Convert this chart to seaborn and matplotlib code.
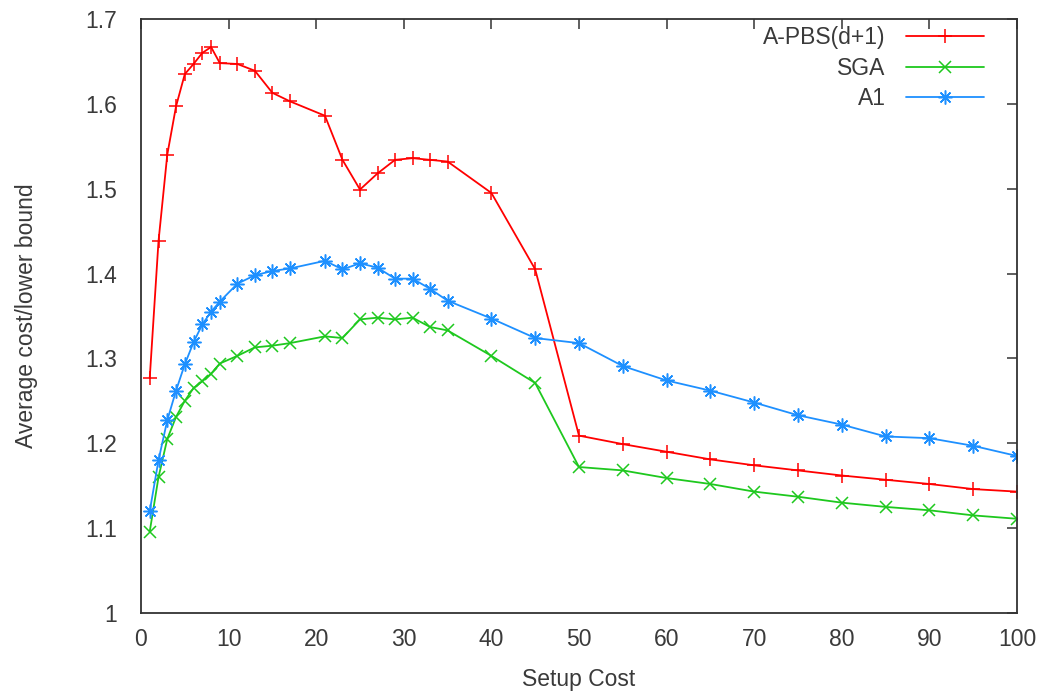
import matplotlib

matplotlib.use("Agg")
import matplotlib.pyplot as plt
import seaborn as sns

""" Average cost / lower bound against setup cost, gnuplot-like look """

# x positions shared by the three series
setup_cost = [1, 2, 3, 4, 5, 6, 7, 8, 9, 11, 13, 15, 17, 21, 23, 25, 27, 29, 31,
              33, 35, 40, 45, 50, 55, 60, 65, 70, 75, 80, 85, 90, 95, 100]

apbs = [1.277, 1.438, 1.540, 1.597, 1.635, 1.647, 1.660, 1.667, 1.648, 1.647,
        1.639, 1.613, 1.603, 1.586, 1.534, 1.499, 1.518, 1.534, 1.536, 1.534,
        1.532, 1.495, 1.405, 1.209, 1.199, 1.190, 1.181, 1.174, 1.168, 1.162,
        1.157, 1.152, 1.146, 1.143]

sga = [1.096, 1.160, 1.205, 1.231, 1.250, 1.265, 1.273, 1.282, 1.294, 1.303,
       1.313, 1.315, 1.318, 1.326, 1.324, 1.346, 1.348, 1.346, 1.348, 1.337,
       1.333, 1.303, 1.271, 1.172, 1.168, 1.159, 1.152, 1.143, 1.137, 1.130,
       1.125, 1.121, 1.115, 1.111]

a1 = [1.120, 1.180, 1.227, 1.262, 1.293, 1.319, 1.340, 1.355, 1.367, 1.388,
      1.398, 1.403, 1.406, 1.415, 1.405, 1.412, 1.407, 1.394, 1.394, 1.382,
      1.368, 1.347, 1.324, 1.318, 1.291, 1.274, 1.262, 1.248, 1.233, 1.222,
      1.208, 1.206, 1.197, 1.185]

series_names = ["A-PBS(d+1)", "SGA", "A1"]
xticks = [0, 10, 20, 30, 40, 50, 60, 70, 80, 90, 100]
yticks = [1.0, 1.1, 1.2, 1.3, 1.4, 1.5, 1.6, 1.7]
ytick_labels = ["1", "1.1", "1.2", "1.3", "1.4", "1.5", "1.6", "1.7"]

TEXT = "#3a3a3a"
FONT_SIZE = 16.5


def plot_chart() -> None:
    sns.set_style("white")
    plt.rcParams["font.family"] = ["Liberation Sans", "DejaVu Sans"]

    fig, ax = plt.subplots(figsize=(10.42, 6.96), dpi=100)
    fig.subplots_adjust(left=0.1353, right=0.976, top=0.9727, bottom=0.1193)

    styles = [
        (apbs, "#ff0000", "+", 10),
        (sga, "#1ec81e", "x", 9),
        (a1, "#1e90ff", (8, 2, 0), 10),
    ]
    for name, (values, color, marker, msize) in zip(series_names, styles):
        sns.lineplot(x=setup_cost, y=values, ax=ax, color=color, label=name,
                     marker=marker, markersize=msize, markeredgewidth=1.1,
                     markeredgecolor=color, linewidth=1.3)

    ax.set_xlim(0, 100)
    ax.set_ylim(1.0, 1.7)
    ax.set_xticks(xticks)
    ax.set_yticks(yticks)
    ax.set_yticklabels(ytick_labels)
    ax.tick_params(direction="in", length=7, width=1.1, top=True, right=True,
                   labelsize=FONT_SIZE, colors="#333333", labelcolor=TEXT)
    ax.tick_params(axis="x", pad=11)
    ax.tick_params(axis="y", pad=17)
    for spine in ax.spines.values():
        spine.set_color("#333333")
        spine.set_linewidth(1.3)

    ax.set_xlabel("Setup Cost", fontsize=FONT_SIZE, color=TEXT, labelpad=12)
    ax.set_ylabel("Average cost/lower bound", fontsize=FONT_SIZE, color=TEXT,
                  labelpad=34)

    leg = ax.legend(loc="upper right", bbox_to_anchor=(0.9755, 1.007),
                    markerfirst=False, frameon=False, fontsize=FONT_SIZE,
                    handlelength=3.4, handletextpad=0.9, labelspacing=0.32,
                    borderpad=0, numpoints=1)
    for t in leg.get_texts():
        t.set_color(TEXT)

    fig.savefig("out.png", dpi=100)


if __name__ == "__main__":
    plot_chart()
